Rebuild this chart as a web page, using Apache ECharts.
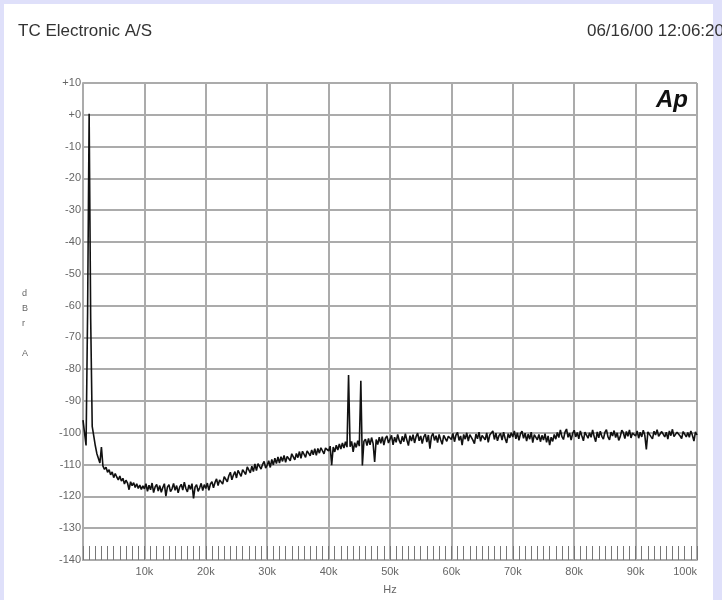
<!DOCTYPE html>
<html>
<head>
<meta charset="utf-8">
<style>
  html, body { margin: 0; padding: 0; background: #dfe0fa; }
  #main { width: 722px; height: 600px; }
</style>
<script src="https://cdn.jsdelivr.net/npm/echarts@6/dist/echarts.min.js"></script>
</head>
<body>
<div id="main"></div>
<script>
// FFT bins every 0.25 kHz, one array per 10 kHz of the sweep
const binKHz = 0.25;

const dbr0to10k = [
  -96, -100, -104, -62, 0.3, -64, -98, -101, -104, -106.5,
  -108, -109.5, -104.5, -110.5, -111.5, -110.8, -112.4, -111.6, -113.2, -112.3,
  -114.1, -112.8, -113.9, -114.8, -113.6, -115.2, -114.3, -116.1, -114.9, -115.8,
  -117.9, -115.4, -116.6, -115.7, -117.2, -116.0, -117.5, -116.4, -117.8, -116.7
];
const dbr10to20k = [
  -117.6, -116.0, -118.4, -116.5, -117.9, -115.8, -118.8, -117.0, -116.2, -118.3,
  -116.6, -118.7, -117.2, -116.0, -119.9, -117.1, -116.3, -118.5, -117.6, -115.9,
  -118.1, -116.6, -118.9, -117.0, -116.2, -118.0, -115.5, -117.5, -118.6, -116.4,
  -117.8, -116.0, -120.6, -117.1, -116.3, -118.4, -117.3, -115.9, -118.2, -116.3
];
const dbr20to30k = [
  -117.5, -115.8, -118.1, -116.1, -115.4, -117.3, -115.6, -114.5, -116.6, -114.8,
  -114.2, -116.1, -113.8, -113.2, -115.4, -113.5, -112.4, -114.8, -113.3, -112.2,
  -114.2, -111.8, -111.4, -113.7, -111.6, -111.0, -113.1, -110.7, -110.2, -112.6,
  -110.5, -112.2, -109.8, -111.9, -109.7, -109.2, -111.4, -109.9, -109.0, -111.1
];
const dbr30to40k = [
  -110.2, -108.8, -110.9, -108.4, -110.1, -108.0, -109.7, -107.6, -109.5, -107.5,
  -109.0, -107.1, -109.3, -107.4, -106.8, -108.8, -106.6, -106.2, -108.5, -106.5,
  -107.8, -105.9, -108.0, -105.8, -105.5, -107.7, -105.7, -105.2, -107.2, -105.4,
  -106.9, -105.0, -107.1, -104.9, -106.4, -104.7, -104.4, -106.6, -104.8, -105.4
];
const dbr40to50k = [
  -105.7, -104.2, -110.2, -104.5, -106.0, -103.9, -105.4, -103.5, -105.1, -103.2,
  -104.8, -102.8, -104.5, -81.8, -104.4, -102.7, -106.0, -103.1, -104.6, -102.5,
  -104.2, -83.6, -110.3, -102.7, -102.0, -104.0, -101.8, -103.8, -101.5, -103.4,
  -109.2, -102.1, -103.7, -101.4, -103.3, -101.2, -103.9, -101.7, -101.0, -103.2
];
const dbr50to60k = [
  -102.7, -100.8, -103.8, -101.4, -103.0, -100.5, -102.4, -103.5, -101.1, -102.8,
  -100.3, -102.3, -104.0, -100.9, -102.6, -100.6, -103.2, -101.2, -100.1, -102.5,
  -101.0, -103.4, -101.3, -100.4, -102.9, -100.7, -105.0, -101.1, -100.2, -102.4,
  -100.9, -103.1, -100.5, -102.2, -103.6, -100.8, -100.3, -102.7, -101.1, -100.5
];
const dbr60to70k = [
  -102.1, -100.2, -102.8, -100.7, -99.9, -102.4, -101.0, -103.9, -100.5, -102.0,
  -100.0, -102.6, -100.6, -100.3, -102.3, -103.4, -100.4, -101.9, -99.8, -102.7,
  -100.8, -100.2, -102.2, -100.0, -103.0, -100.7, -100.5, -99.4, -102.1, -100.1,
  -102.5, -100.9, -100.2, -102.3, -99.8, -101.8, -103.2, -100.3, -101.6, -100.0
];
const dbr70to80k = [
  -101.3, -99.4, -101.9, -100.0, -102.4, -100.3, -99.5, -101.7, -100.1, -102.6,
  -100.4, -102.0, -99.8, -103.1, -100.6, -100.0, -102.2, -100.5, -102.8, -100.8,
  -102.3, -100.3, -103.0, -101.0, -103.9, -101.4, -102.7, -100.5, -102.0, -99.9,
  -101.5, -99.1, -101.2, -102.1, -99.8, -98.8, -101.4, -100.1, -102.3, -100.2
];
const dbr80to90k = [
  -99.2, -101.3, -99.9, -101.9, -99.4, -101.0, -102.5, -99.8, -99.3, -101.7,
  -100.0, -101.4, -99.1, -101.2, -102.8, -99.7, -101.6, -99.5, -101.1, -102.0,
  -99.9, -99.0, -101.3, -102.2, -99.8, -101.0, -99.3, -101.5, -100.0, -102.4,
  -101.2, -99.2, -99.9, -101.8, -99.6, -101.1, -99.1, -101.6, -100.1, -99.7
];
const dbr90to100k = [
  -101.0, -99.4, -101.7, -99.8, -101.3, -99.2, -100.8, -105.2, -99.7, -99.3,
  -101.2, -101.9, -99.5, -100.7, -99.0, -101.1, -101.6, -99.6, -99.2, -101.3,
  -99.8, -102.0, -99.4, -100.9, -98.9, -101.2, -101.5, -99.8, -99.3, -101.0,
  -101.8, -99.6, -99.1, -101.3, -99.9, -101.4, -99.4, -100.8, -102.6, -99.7, -100.7
];

const yTicks = { min: -140, max: 10, step: 10 };
const xTicks = { min: 0, max: 100, step: 10 };

const levels = [].concat(
  dbr0to10k, dbr10to20k, dbr20to30k, dbr30to40k, dbr40to50k,
  dbr50to60k, dbr60to70k, dbr70to80k, dbr80to90k, dbr90to100k
);
const points = levels.map((db, i) => [i * binKHz, db]);

const gridColor = "#ababab";
const labelStyle = { color: "#666", fontSize: 11, fontFamily: "Liberation Sans" };

const chart = echarts.init(document.getElementById("main"));
chart.setOption({
  animation: false,
  backgroundColor: "#dfe0fa",
  grid: { left: 83, top: 83, width: 614, height: 480 },
  graphic: [
    { type: "rect", z: -10, shape: { x: 4, y: 4, width: 709, height: 600 }, style: { fill: "#fff" } },
    { type: "text", left: 18, top: 23, style: { text: "TC Electronic A/S", fontSize: 17, fontFamily: "Liberation Sans", fill: "#333" } },
    { type: "text", right: -2, top: 23, style: { text: "06/16/00 12:06:20", fontSize: 17, fontFamily: "Liberation Sans", fill: "#333" } },
    { type: "text", left: 22, top: 286, style: { text: "d\nB\nr\n\nA", fontSize: 9, lineHeight: 15, align: "center", fontFamily: "Liberation Sans", fill: "#666" } },
    { type: "text", left: 656, top: 88, style: { text: "Ap", fontSize: 24, fontWeight: "bold", fontStyle: "italic", fontFamily: "Liberation Sans", fill: "#111" } }
  ],
  xAxis: {
    type: "value",
    min: xTicks.min,
    max: xTicks.max,
    interval: xTicks.step,
    name: "Hz",
    nameLocation: "middle",
    nameGap: 24,
    nameTextStyle: labelStyle,
    axisLine: { onZero: false, lineStyle: { color: gridColor, width: 2 } },
    axisTick: { show: true, inside: true, length: 14, lineStyle: { color: "#777", width: 1 } },
    minorTick: { show: true, splitNumber: 10, length: 14, lineStyle: { color: "#777", width: 1 } },
    splitLine: { lineStyle: { color: gridColor, width: 2 } },
    axisLabel: {
      ...labelStyle,
      margin: 6,
      alignMaxLabel: "right",
      formatter: (v) => (v === 0 ? "" : v + "k")
    }
  },
  yAxis: {
    type: "value",
    min: yTicks.min,
    max: yTicks.max,
    interval: yTicks.step,
    axisLine: { show: true, onZero: false, lineStyle: { color: gridColor, width: 2 } },
    axisTick: { show: false },
    splitLine: { lineStyle: { color: gridColor, width: 2 } },
    axisLabel: {
      ...labelStyle,
      margin: 2,
      formatter: (v) => (v >= 0 ? "+" + v : String(v))
    }
  },
  series: [
    {
      type: "line",
      data: points,
      symbol: "none",
      lineStyle: { color: "#111", width: 1.6 }
    }
  ]
});
</script>
</body>
</html>
